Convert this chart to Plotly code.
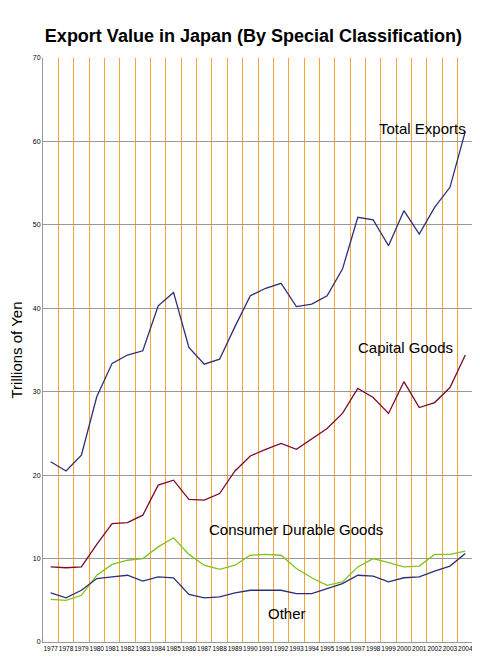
import plotly.graph_objects as go

years = list(range(1977, 2005))
total = [21.6, 20.5, 22.4, 29.4, 33.4, 34.4, 34.9, 40.3, 41.9, 35.3, 33.3, 33.9, 37.8, 41.5, 42.4, 43.0, 40.2, 40.5, 41.5, 44.7, 50.9, 50.6, 47.5, 51.7, 48.9, 52.1, 54.5, 61.2]
capital = [9.0, 8.9, 9.0, 11.7, 14.2, 14.3, 15.2, 18.8, 19.4, 17.1, 17.0, 17.8, 20.5, 22.3, 23.1, 23.8, 23.1, 24.3, 25.6, 27.4, 30.4, 29.3, 27.4, 31.2, 28.1, 28.7, 30.5, 34.4]
consumer = [5.1, 5.0, 5.6, 8.0, 9.3, 9.8, 10.0, 11.4, 12.5, 10.5, 9.2, 8.7, 9.2, 10.4, 10.5, 10.4, 8.8, 7.7, 6.8, 7.2, 9.0, 10.0, 9.5, 9.0, 9.1, 10.5, 10.5, 10.9]
other = [5.9, 5.3, 6.2, 7.6, 7.8, 8.0, 7.3, 7.8, 7.7, 5.7, 5.3, 5.4, 5.9, 6.2, 6.2, 6.2, 5.8, 5.8, 6.4, 7.0, 8.0, 7.9, 7.2, 7.7, 7.8, 8.5, 9.1, 10.6]

series = [("Total Exports", total, "#2b2f7a"), ("Capital Goods", capital, "#7a0a32"),
          ("Consumer Durable Goods", consumer, "#7fc31c"), ("Other", other, "#2b2f7a")]

fig = go.Figure()
for name, vals, col in series:
    fig.add_trace(go.Scatter(x=years, y=vals, mode="lines", name=name,
                             line=dict(color=col, width=1.3)))

labels = [("Total Exports", 2001.2, 61.5), ("Capital Goods", 2000.1, 35.3),
          ("Consumer Durable Goods", 1993.0, 13.5), ("Other", 1992.4, 3.4)]
for t, x, y in labels:
    fig.add_annotation(x=x, y=y, text=t, showarrow=False,
                       font=dict(family="Liberation Sans", size=15, color="black"))

fig.update_layout(
    width=472, height=657, showlegend=False,
    plot_bgcolor="white", paper_bgcolor="white",
    margin=dict(l=35, r=7, t=50, b=23),
    title=dict(text="<b>Export Value in Japan (By Special Classification)</b>", x=0.52, y=0.968,
               xanchor="center", font=dict(family="Liberation Sans", size=18, color="black")),
    font=dict(family="Liberation Sans"),
)
fig.update_xaxes(range=[1976.5, 2004.5], tickmode="array", tickvals=years,
                 ticktext=[str(y) for y in years], tickangle=0, automargin=False,
                 tickfont=dict(size=6.5, color="black"), showgrid=False, zeroline=False,
                 showline=True, linecolor="#999", ticks="",
                 minor=dict(tick0=1976.5, dtick=1, showgrid=True, gridcolor="#f7a233", gridwidth=1.2))
fig.update_yaxes(range=[0, 70], dtick=10, showgrid=True, gridcolor="#999", gridwidth=1,
                 zeroline=False, showline=True, linecolor="#999", automargin=False,
                 tickfont=dict(size=7, color="black"),
                 title=dict(text="Trillions of Yen", font=dict(size=15, color="black"), standoff=6))
fig.write_html("out.html")
